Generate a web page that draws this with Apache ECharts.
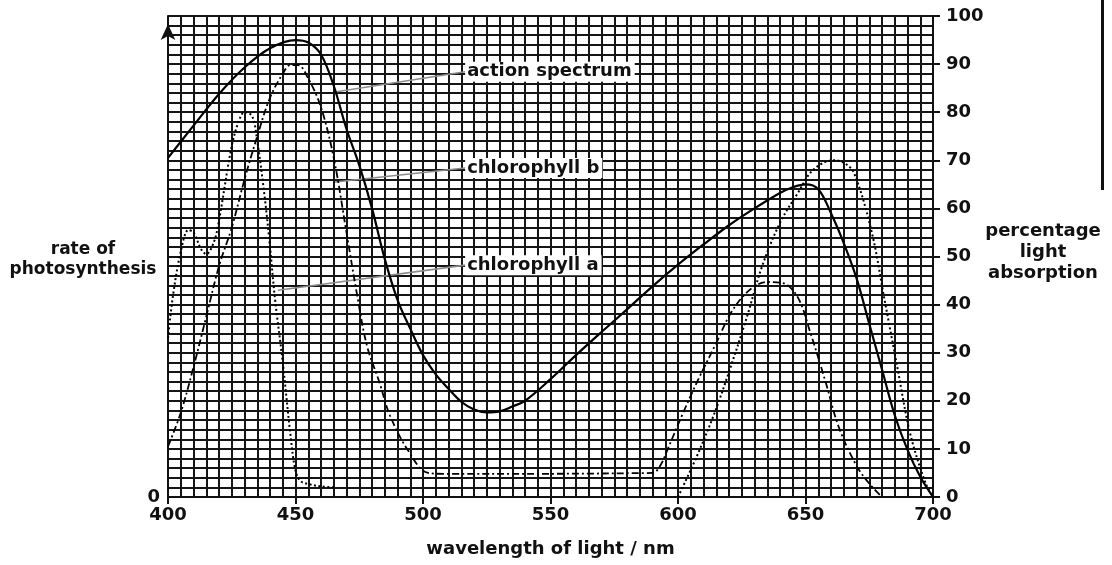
<!DOCTYPE html>
<html><head><meta charset="utf-8">
<script src="https://cdn.jsdelivr.net/npm/echarts@6/dist/echarts.min.js"></script>
<style>html,body{margin:0;padding:0;background:#fff}#c{width:1112px;height:565px}</style>
</head><body><div id="c"></div>
<script>
// ---- data ----
const actionX = [400,410,420,430,440,450,455,460,465,470,475,480,485,490,495,500,505,510,515,520,525,530,535,540,550,560,570,580,590,600,610,620,630,640,645,650,655,660,665,670,675,680,685,690,695,700];
const actionY = [70.5,77.2,83.8,89.3,93.3,95,94.5,92,85.5,76.5,69,60,49.5,41,35,29.5,25.5,22.5,19.8,18.2,17.6,17.8,18.8,20,24.5,29.5,34.3,39,43.8,48.3,52.5,56.5,60,63.2,64.4,65,64,59,52.8,45.5,36,26.5,17,9.8,4.2,0];

const chlBX = [400,405,410,415,420,425,430,435,440,445,448,451,455,460,465,470,474,478,483,487,494,502,510,590,593,596,602,608,615,621,628,635,641,647,652,658,663,670,675,680];
const chlBY = [10.5,17.5,27,37.5,48,56,66,75,83,88,89.8,89.8,87,81,70.5,55,42.5,31.5,23.7,17,9.8,5,4.8,5,6.5,10,17.5,24.5,32,38.5,43,44.7,44.5,41.5,34,23.7,14.6,6.5,2.8,0];

const chlAX = [400,402,405,408,410,413,415,418,420,425,428,430,433,435,438,440,442,445,448,450,452,456,460,465,530,600,607,614,620,627,633,640,647,653,661,665,669,676,681,686,691,697,700];
const chlAY = [33,42,51,55.5,55,51.5,50.5,53,57.5,73,78.5,80,79.2,74,62,52,41,28,13,5.5,3.3,2.6,2.2,2,null,0,8,17,26,37.4,48,57,63.2,68,70,69.5,67.4,55,41,27,13.3,3,0];

const seriesNames = ['action spectrum','chlorophyll b','chlorophyll a'];
const xTitle = 'wavelength of light / nm';
const leftTitle = ['rate of','photosynthesis'];
const rightTitle = ['percentage','light','absorption'];

// callout anchors (curve point -> label point), in data units
const calloutFrom = [[465.5,84.2],[465.5,65.5],[443.1,43]];
const calloutTo   = [[516.5,88.4],[516.5,68.4],[516.5,48.2]];

function pairs(xs, ys){ return xs.map((x,i)=>[x, ys[i]==null ? '-' : ys[i]]); }

const FONT = 'DejaVu Sans';
const INK = '#111';
const gridLine = {color:'#151515', width:2};

const styles = [
  {type:'solid', width:2.2},
  {type:[7,3,2,3], width:1.8},
  {type:[2,2.5], width:2}
];
const datasets = [pairs(actionX,actionY), pairs(chlBX,chlBY), pairs(chlAX,chlAY)];

const series = datasets.map((d,i)=>({
  type:'line', name:seriesNames[i], data:d, yAxisIndex:1,
  showSymbol:false, smooth:0.35, connectNulls:false, silent:true,
  lineStyle:Object.assign({color:'#000'}, styles[i]),
  z:5,
  markLine:{
    silent:true, symbol:['none','none'],
    lineStyle:{color:'#8c8c8c', width:1.6, type:'solid'},
    label:{show:false},
    data:[[{coord:calloutFrom[i]},{coord:calloutTo[i]}]]
  },
  markPoint:{
    silent:true, symbol:'circle', symbolSize:0.1,
    itemStyle:{color:'rgba(0,0,0,0)'},
    label:{show:true, position:'right', distance:0, formatter:seriesNames[i],
      color:INK, fontFamily:FONT, fontWeight:'bold', fontSize:18,
      backgroundColor:'#fff', padding:[1,3,1,2]},
    data:[{coord:calloutTo[i]}]
  }
}));

const chart = echarts.init(document.getElementById('c'), null, {renderer:'canvas'});
chart.setOption({
  animation:false,
  backgroundColor:'#fff',
  grid:{left:168, right:179, top:16, bottom:68, containLabel:false},
  xAxis:{
    type:'value', min:400, max:700, interval:50,
    axisLine:{show:true, onZero:false, lineStyle:{color:INK, width:2}},
    axisTick:{show:true, length:7, lineStyle:{color:INK, width:2}},
    axisLabel:{color:INK, fontFamily:FONT, fontWeight:'bold', fontSize:18, margin:9},
    splitLine:{show:true, lineStyle:gridLine},
    minorTick:{show:false, splitNumber:10},
    minorSplitLine:{show:true, lineStyle:gridLine},
    name:xTitle, nameLocation:'middle', nameGap:43,
    nameTextStyle:{color:INK, fontFamily:FONT, fontWeight:'bold', fontSize:18}
  },
  yAxis:[
    {
      type:'value', position:'left', min:0, max:100, interval:10,
      axisLine:{show:true, lineStyle:{color:INK, width:2}, symbol:['none','arrow'], symbolSize:[11,16], symbolOffset:[0,-8]},
      axisTick:{show:false},
      splitLine:{show:false},
      axisLabel:{color:INK, fontFamily:FONT, fontWeight:'bold', fontSize:18, margin:8,
        formatter:v=> v===0 ? '0' : ''}
    },
    {
      type:'value', position:'right', min:0, max:100, interval:10,
      axisLine:{show:true, lineStyle:{color:INK, width:2}},
      axisTick:{show:true, length:7, lineStyle:{color:INK, width:2}},
      axisLabel:{color:INK, fontFamily:FONT, fontWeight:'bold', fontSize:18, margin:13},
      splitLine:{show:true, lineStyle:gridLine},
      minorTick:{show:false, splitNumber:5},
      minorSplitLine:{show:true, lineStyle:gridLine}
    }
  ],
  series:series,
  graphic:[
    {type:'text', x:83, y:250, style:{text:leftTitle[0], textAlign:'center', textVerticalAlign:'middle', font:'bold 17px '+FONT, fill:INK}},
    {type:'text', x:83, y:270, style:{text:leftTitle[1], textAlign:'center', textVerticalAlign:'middle', font:'bold 17px '+FONT, fill:INK}},
    {type:'text', x:1043, y:231, style:{text:rightTitle[0], textAlign:'center', textVerticalAlign:'middle', font:'bold 18px '+FONT, fill:INK}},
    {type:'text', x:1043, y:252, style:{text:rightTitle[1], textAlign:'center', textVerticalAlign:'middle', font:'bold 18px '+FONT, fill:INK}},
    {type:'text', x:1043, y:273, style:{text:rightTitle[2], textAlign:'center', textVerticalAlign:'middle', font:'bold 18px '+FONT, fill:INK}},
    {type:'rect', shape:{x:1101, y:0, width:3, height:190}, style:{fill:'#111'}}
  ]
});
</script>
</body></html>
